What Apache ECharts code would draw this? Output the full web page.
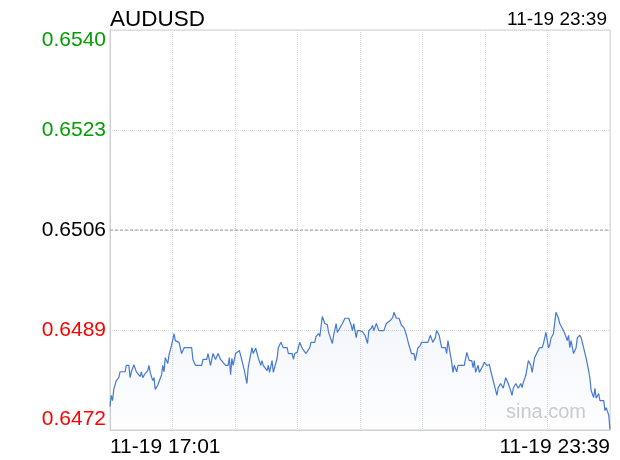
<!DOCTYPE html>
<html>
<head>
<meta charset="utf-8">
<script src="https://cdn.jsdelivr.net/npm/echarts@6/dist/echarts.min.js"></script>
<style>
html,body{margin:0;padding:0;background:#fff;}
#chart{width:620px;height:460px;}
</style>
</head>
<body>
<div id="chart"></div>
<script>
// Minutes after 11-19 17:01
const minutes = [0,1,2,3,4,5,7,8,12,13,15,16,17,19,21,22,24,25,26,28,30,31,32,34,35,36,38,40,41,42,43,44,46,47,48,49,
51,52,55,56,57,59,65,66,68,73,74,77,78,80,82,84,86,88,89,90,92,94,95,96,97,98,
100,103,104,107,109,110,113,114,116,118,120,121,122,125,126,127,129,130,133,134,136,138,141,142,145,146,147,
149,151,153,154,156,157,159,160,163,164,166,167,169,171,173,174,177,178,180,181,182,185,187,190,192,193,194,196,197,
199,201,203,205,206,208,209,210,212,214,218,220,221,223,225,226,228,230,232,234,236,238,240,242,243,245,247,
248,253,255,257,259,260,262,264,267,268,269,270,272,273,274,276,277,282,284,286,288,289,290,291,293,294,297,
298,299,300,302,303,306,308,309,311,313,315,317,319,320,321,323,325,327,328,329,331,333,335,336,338,340,341,342,344,345,
347,349,350,351,353,354,355,357,358,360,362,364,365,366,367,369,371,372,374,375,377,379,381,382,383,385,386,387,389,390,393,394,395,397,398];
const prices = [0.64760,0.64779,0.64770,0.64789,0.64792,0.64804,0.64809,0.64819,0.64819,0.64830,0.64830,0.64809,0.64819,0.64831,0.64819,0.64819,0.64811,0.64819,0.64809,0.64816,0.64821,0.64830,0.64818,0.64804,0.64809,0.64789,0.64796,0.64808,0.64813,0.64830,0.64819,0.64843,0.64833,0.64848,0.64845,0.64864,
0.64884,0.64872,0.64869,0.64867,0.64850,0.64860,0.64860,0.64840,0.64830,0.64830,0.64840,0.64840,0.64850,0.64830,0.64850,0.64840,0.64850,0.64840,0.64840,0.64835,0.64830,0.64830,0.64843,0.64814,0.64842,0.64830,
0.64850,0.64855,0.64847,0.64821,0.64799,0.64826,0.64860,0.64850,0.64859,0.64843,0.64830,0.64838,0.64830,0.64821,0.64830,0.64818,0.64838,0.64818,0.64842,0.64860,0.64869,0.64860,0.64860,0.64850,0.64850,0.64840,0.64850,
0.64852,0.64869,0.64859,0.64859,0.64850,0.64852,0.64860,0.64869,0.64869,0.64879,0.64884,0.64879,0.64913,0.64901,0.64899,0.64886,0.64867,0.64881,0.64901,0.64886,0.64889,0.64901,0.64910,0.64910,0.64898,0.64889,0.64901,0.64877,0.64889,
0.64889,0.64887,0.64881,0.64867,0.64889,0.64893,0.64898,0.64889,0.64901,0.64889,0.64889,0.64901,0.64898,0.64906,0.64911,0.64920,0.64910,0.64910,0.64898,0.64894,0.64881,0.64864,0.64850,0.64850,0.64838,0.64859,0.64864,
0.64869,0.64869,0.64881,0.64869,0.64877,0.64889,0.64881,0.64860,0.64860,0.64850,0.64872,0.64860,0.64835,0.64818,0.64830,0.64819,0.64830,0.64830,0.64852,0.64838,0.64838,0.64826,0.64838,0.64818,0.64830,0.64818,0.64830,
0.64835,0.64838,0.64830,0.64831,0.64821,0.64796,0.64779,0.64792,0.64799,0.64791,0.64809,0.64799,0.64787,0.64779,0.64791,0.64799,0.64791,0.64799,0.64792,0.64801,0.64813,0.64838,0.64830,0.64818,0.64843,0.64852,0.64850,0.64860,0.64860,0.64867,
0.64886,0.64860,0.64864,0.64876,0.64884,0.64903,0.64920,0.64910,0.64901,0.64893,0.64884,0.64872,0.64881,0.64860,0.64872,0.64850,0.64860,0.64877,0.64881,0.64877,0.64860,0.64842,0.64821,0.64808,0.64787,0.64775,0.64791,0.64774,0.64782,0.64770,0.64770,0.64753,0.64758,0.64745,0.64721];
const yTicks = [0.6472, 0.6489, 0.6506, 0.6523, 0.6540];
const prevClose = [0.6506];
const timeLabels = ['11-19 17:01', '11-19 23:39'];
const symbolName = 'AUDUSD';
const lastTime = '11-19 23:39';

const seriesData = minutes.map((m, i) => [m, prices[i]]);
const xMax = minutes[minutes.length - 1];

const chart = echarts.init(document.getElementById('chart'), null, {renderer: 'canvas'});
chart.setOption({
  animation: false,
  backgroundColor: '#ffffff',
  textStyle: {fontFamily: 'Liberation Sans, Arial, sans-serif'},
  title: [
    {text: symbolName, left: 105, top: 3, textStyle: {fontSize: 22.5, fontWeight: 'normal', color: '#000', fontFamily: 'Liberation Sans'}},
    {text: lastTime, right: 8, top: 5, textStyle: {fontSize: 19, fontWeight: 'normal', color: '#000', fontFamily: 'Liberation Sans'}}
  ],
  grid: {left: 110, right: 10, top: 30, bottom: 30, show: true, borderColor: '#d0d0d0', borderWidth: 1, containLabel: false},
  xAxis: {
    type: 'value', min: 0, max: xMax, interval: xMax / 8,
    axisLine: {show: true, lineStyle: {color: '#d0d0d0'}},
    axisTick: {show: false},
    splitLine: {show: true, lineStyle: {color: '#d8d8d8', type: 'dotted'}},
    axisLabel: {
      show: true, fontSize: 21, color: '#000', margin: 7, fontFamily: 'Liberation Sans',
      showMinLabel: true, showMaxLabel: true,
      alignMinLabel: 'left', alignMaxLabel: 'right',
      formatter: function (v) {
        if (Math.abs(v) < 1e-6) return timeLabels[0];
        if (Math.abs(v - xMax) < 1e-6) return timeLabels[1];
        return '';
      }
    }
  },
  yAxis: {
    type: 'value', min: yTicks[0], max: yTicks[yTicks.length - 1], interval: yTicks[1] - yTicks[0],
    axisLine: {show: true, lineStyle: {color: '#d0d0d0'}},
    axisTick: {show: false},
    splitLine: {show: true, lineStyle: {color: '#d8d8d8', type: 'dotted'}},
    axisLabel: {
      fontSize: 21, margin: 4, fontFamily: 'Liberation Sans',
      showMinLabel: true, showMaxLabel: true,
      verticalAlignMinLabel: 'bottom', verticalAlignMaxLabel: 'top',
      formatter: function (v) { return v.toFixed(4); },
      color: function (v) {
        const val = typeof v === 'string' ? parseFloat(v) : v;
        if (val > prevClose[0] + 1e-6) return '#00a000';
        if (val < prevClose[0] - 1e-6) return '#ff0000';
        return '#000000';
      }
    }
  },
  graphic: [
    {type: 'text', right: 34, top: 402, style: {text: 'sina.com', fontSize: 20, fill: '#cccccc', fontFamily: 'Liberation Sans'}}
  ],
  series: [{
    type: 'line',
    data: [[0, prevClose[0]], [xMax, prevClose[0]]],
    symbol: 'none', silent: true, z: 1,
    lineStyle: {color: '#9a9a9a', type: [3, 2], width: 1}
  }, {
    type: 'line',
    data: seriesData,
    showSymbol: false,
    symbol: 'none',
    z: 3,
    lineStyle: {color: '#4679d2', width: 1.2},
    itemStyle: {color: '#4679d2'},
    areaStyle: {
      color: new echarts.graphic.LinearGradient(0, 0, 0, 1, [
        {offset: 0, color: 'rgba(70,121,210,0.10)'},
        {offset: 1, color: 'rgba(70,121,210,0.01)'}
      ])
    }
  }]
});
</script>
</body>
</html>
